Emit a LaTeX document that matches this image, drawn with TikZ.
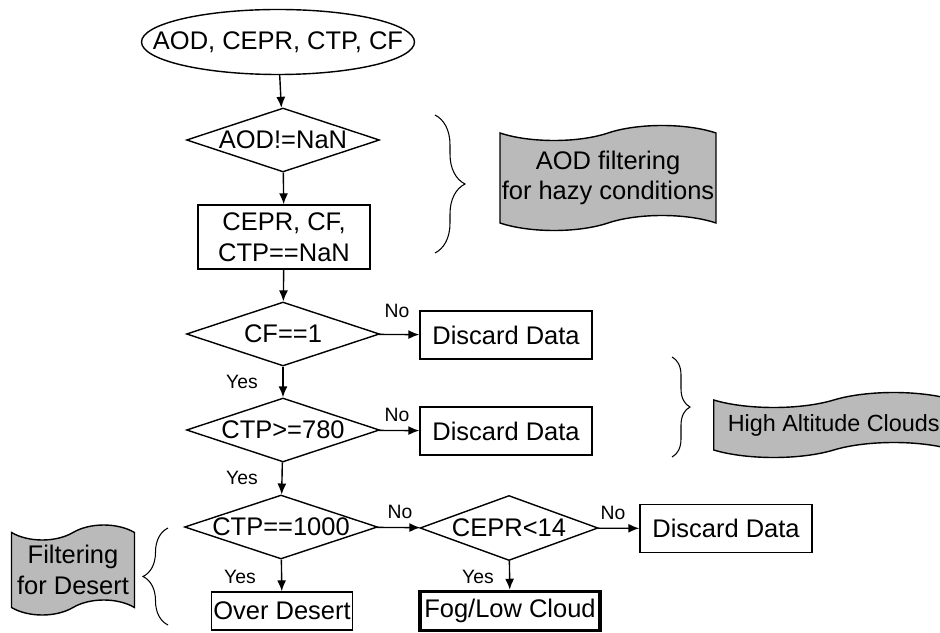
\documentclass[tikz,border=0pt]{standalone}
\usepackage{fontspec}
\setmainfont{Liberation Sans}
\usetikzlibrary{shapes.geometric,shapes.symbols,arrows.meta,decorations.pathreplacing}

\tikzset{
	base/.style={draw, line width=0.8pt, font=\fontsize{14.5}{17.5}\selectfont, align=center, inner sep=1pt},
	start/.style={base, ellipse, inner xsep=-0.66cm, inner ysep=0pt, minimum width=5.46cm, minimum height=1.3cm},
	test/.style={base, diamond, aspect=3, inner sep=0pt, minimum width=3.86cm, minimum height=1.28cm},
	box/.style={base, rectangle, minimum width=3.44cm, minimum height=0.96cm},
	wave/.style={base, tape, fill=black!27, tape bend top=in and out, tape bend bottom=in and out, tape bend height=0.3cm},
	lab/.style={font=\fontsize{11}{13}\selectfont},
	arr/.style={-{Latex[length=2.2mm,width=1.8mm]}, line width=0.8pt},
	brc/.style={decorate, line width=0.6pt}
}

\begin{document}
\begin{tikzpicture}
	\useasboundingbox (0,0) rectangle (18.8,12.64);
	\node[start] (in) at (5.56,11.8) {AOD, CEPR, CTP, CF};
	\node[test] (aod) at (5.66,9.84) {AOD!=NaN};
	\node[box, minimum width=3.44cm, minimum height=1.28cm] (nan) at (5.68,7.9) {CEPR, CF,\\CTP==NaN};
	\node[test] (cf) at (5.66,5.96) {CF==1};
	\node[box] (d1) at (10.12,5.94) {Discard Data};
	\node[test] (ctp) at (5.66,4.04) {CTP>=780};
	\node[box] (d2) at (10.12,4.02) {Discard Data};
	\node[test] (des) at (5.62,2.1) {CTP==1000};
	\node[test, minimum width=3.56cm, minimum height=1.3cm] (cepr) at (10.18,2.08) {CEPR<14};
	\node[box] (d3) at (14.52,2.07) {Discard Data};
	\node[box, minimum width=2.6cm, minimum height=0.76cm] (over) at (5.64,0.42) {Over Desert};
	\node[box, line width=2pt, minimum width=3.6cm, minimum height=0.78cm] (fog) at (10.2,0.42) {Fog/Low Cloud};
	\node[wave, minimum width=4.3cm, minimum height=2.1cm] (haze) at (12.16,9.08) {AOD filtering\\for hazy conditions};
	\node[wave, font=\fontsize{13.3}{16}\selectfont, inner xsep=3pt, minimum width=4.8cm, minimum height=1.3cm, anchor=west] (high) at (14.26,4.14) {High Altitude Clouds};
	\node[wave, minimum width=2.46cm, minimum height=1.8cm] (fdes) at (1.46,1.24) {Filtering\\for Desert};
	\node[lab] (no1) at (7.94,6.42) {No};
	\node[lab] (yes1) at (4.84,5.0) {Yes};
	\node[lab] (no2) at (7.94,4.34) {No};
	\node[lab] (yes2) at (4.84,3.08) {Yes};
	\node[lab] (no3) at (8.0,2.4) {No};
	\node[lab] (yes3) at (4.8,1.1) {Yes};
	\node[lab] (yes4) at (9.56,1.1) {Yes};
	\node[lab] (no4) at (12.26,2.38) {No};
	\draw[arr] (in) -- (aod);
	\draw[arr] (aod) -- (nan);
	\draw[arr] (nan) -- (cf);
	\draw[arr] (cf) -- (d1);
	\draw[arr] (cf) -- (ctp);
	\draw[arr] (ctp) -- (d2);
	\draw[arr] (ctp) -- (des);
	\draw[arr] (des) -- (cepr);
	\draw[arr] (des) -- (over);
	\draw[arr] (cepr) -- (d3);
	\draw[arr] (cepr) -- (fog);
	\coordinate (b1) at (8.7,10.34);
	\coordinate (b2) at (8.7,7.58);
	\coordinate (b3) at (13.44,5.5);
	\coordinate (b4) at (13.44,3.5);
	\coordinate (b5) at (3.36,0.14);
	\coordinate (b6) at (3.36,2.08);
	\draw[brc, decoration={brace, amplitude=0.6cm}] (b1) -- (b2);
	\draw[brc, decoration={brace, amplitude=0.36cm}] (b3) -- (b4);
	\draw[brc, decoration={brace, amplitude=0.5cm}] (b5) -- (b6);
\end{tikzpicture}
\end{document}
